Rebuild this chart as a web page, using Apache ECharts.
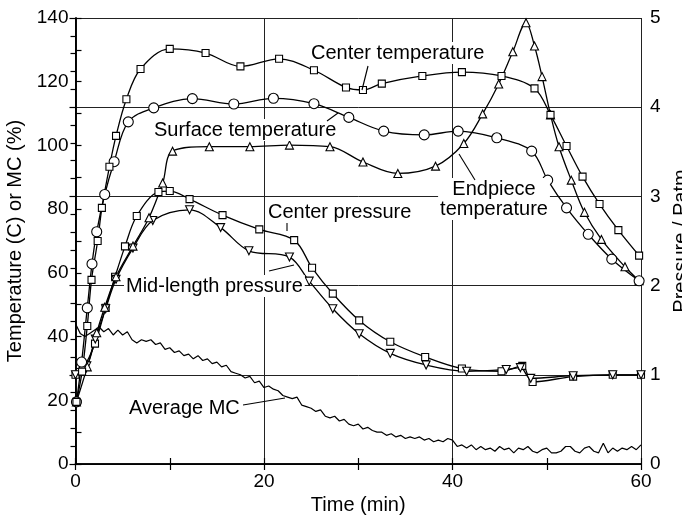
<!DOCTYPE html>
<html>
<head>
<meta charset="utf-8">
<script src="https://cdn.jsdelivr.net/npm/echarts@6/dist/echarts.min.js"></script>
<style>
html,body{margin:0;padding:0;background:#fff;}
#c{width:682px;height:516px;}
</style>
</head>
<body>
<div id="c"></div>
<script>
// ---- data (time in min, temperature in C, MC in %, pressure in Patm) ----
var centerTemp = [[0.1,19.5],[0.7,29],[1.25,43.3],[1.7,57.8],[2.35,70],[2.8,80.4],[3.6,93.3],[4.3,103],[5.4,114.5],[6.9,124],[10,130.3],[13.8,129],[17.5,124.8],[21.6,127.2],[25.3,123.6],[28.7,118.2],[30.5,117.4],[32.5,119.4],[36.8,121.8],[41,123],[45.2,121.8],[48.7,117.9],[50.4,109.6],[52.1,99.8],[53.8,90.2],[55.6,81.6],[57.6,73.4],[59.8,65.4]];
var surfaceTemp = [[0.1,19.5],[0.65,32],[1.25,49],[1.75,62.8],[2.25,72.9],[3.1,84.6],[4.1,94.9],[5.6,107.4],[8.3,111.8],[12.4,114.7],[16.8,113],[21,114.8],[25.3,113.1],[29,108.8],[32.7,104.5],[37,103.3],[40.6,104.5],[44.7,102.4],[48.4,98.2],[50.1,89.1],[52.1,80.4],[54.4,72.1],[56.9,64.3],[59.8,57.5]];
var endpieceTemp = [[0.1,19.5],[1.25,30.5],[2.25,41.2],[3.1,49.2],[4.3,58.8],[6.1,68.4],[7.8,77.3],[9.25,88.2],[10.3,98.2],[14.2,99.6],[18.5,99.6],[22.7,100.1],[27,99.6],[30.5,94.8],[34.2,91.2],[38.2,93.5],[41.2,100.6],[43.2,109.9],[44.9,119.3],[46.4,129.4],[47.8,138.5],[48.7,131.2],[49.5,121.6],[50.4,109.6],[51.3,99.6],[52.6,89.1],[54,79],[55.8,70.5],[58.3,61.9],[59.8,57.5]];
var centerPressure = [[0,1.0],[0.8,1.07],[2.07,1.35],[3.2,1.75],[4.2,2.1],[5.25,2.44],[6.5,2.78],[8.8,3.05],[10,3.06],[12.1,2.97],[15.6,2.79],[19.5,2.63],[23.2,2.51],[25.1,2.2],[27.3,1.91],[30.1,1.61],[33.4,1.37],[37.1,1.2],[41,1.07],[45.2,1.04],[47.4,1.1],[48.5,0.92],[52.8,0.98],[57,1.0],[60,1.0]];
var midPressure = [[0,1.0],[1.2,1.1],[2.1,1.4],[3.2,1.74],[4.3,2.07],[6.1,2.42],[8.2,2.73],[12.1,2.85],[15.4,2.65],[18.4,2.39],[22.7,2.32],[24.8,2.05],[27.3,1.74],[30.1,1.46],[33.4,1.24],[37.2,1.11],[41.5,1.04],[45.7,1.06],[47.2,1.08],[48.3,0.96],[52.8,0.99],[57,1.0],[60,1.0]];
var mcTimes = [];
for (var i = 0; i <= 120; i++) mcTimes.push(i * 0.5);
var mcValues = [44,41,40,41,42,43,41.5,42.5,40.5,42,40.5,41.5,39,38,39,38.5,39,37.5,38,36,36.5,35,35.5,34,34.5,33,34,32.5,33,31.5,32,30.5,31,29,28.5,28,27,27.5,25.5,26,24,24.5,23.5,23,21.5,21,20.5,21,18.5,18,17.5,16.5,17,15,14.5,15,13.5,14,12.5,12,12.5,11,11.5,10.5,10,10,9,9.5,8.5,9,8,8.5,8,8.5,7.5,8,7,7.5,7,8,7.5,5.5,6,5,6,4.5,5.5,4.5,5,4,5.5,4.5,5,3.5,5,4.5,5.5,4,3.5,4.5,5,3.5,3.5,4,5.5,5.5,4,3.5,5,5.5,4,3.5,6.5,3.5,5,4,5,4.5,5.5,4.5,6];
var xTicks = [0,20,40,60];
var leftTicks = [0,20,40,60,80,100,120,140];
var rightTicks = [0,1,2,3,4,5];

var mcData = mcTimes.map(function(t, k){ return [t, mcValues[k]]; });

var FONT = 'Liberation Sans, Arial, Helvetica, sans-serif';
var chart = echarts.init(document.getElementById('c'), null, {renderer:'canvas'});

function markerSeries(name, data, symbol, size, rot, yIdx){
  return {
    name: name, type: 'line', data: data, yAxisIndex: yIdx, xAxisIndex: 0,
    smooth: 0.35, symbol: symbol, symbolSize: size, symbolRotate: rot || 0,
    showAllSymbol: true,
    lineStyle: {color:'#000', width:1.3},
    itemStyle: {color:'#fff', borderColor:'#000', borderWidth:1.1},
    emphasis: {disabled:true}, z: 3
  };
}

function label(text, x, y, align){
  return {
    type:'text', x:x, y:y, z:50,
    style:{text:text, fill:'#000', font:'20px ' + FONT, align: align || 'left', verticalAlign:'middle',
      backgroundColor:'#fff', padding:[1,2,1,2], lineHeight:20}
  };
}
function lead(x1,y1,x2,y2){
  return {type:'line', z:51, shape:{x1:x1,y1:y1,x2:x2,y2:y2}, style:{stroke:'#000', lineWidth:1.1}};
}

var option = {
  backgroundColor:'#fff',
  animation:false,
  grid:{left:75.5, right:41, top:18, bottom:52, containLabel:false, outerBoundsMode:'none'},
  xAxis:[{
    type:'value', min:0, max:60, interval:20, position:'bottom',
    name:'Time (min)', nameLocation:'middle', nameGap:30,
    nameTextStyle:{fontSize:20, color:'#000', fontFamily:FONT},
    axisLine:{show:true, lineStyle:{color:'#000', width:1.6}},
    axisTick:{show:true, inside:true, length:6, lineStyle:{color:'#000', width:1.2}},
    minorTick:{show:true, splitNumber:2, length:6, lineStyle:{color:'#000', width:1.2}},
    axisLabel:{fontSize:19, color:'#000', fontFamily:FONT, margin:8,
      formatter:function(v){ return xTicks.indexOf(v) >= 0 ? String(v) : ''; }},
    splitLine:{show:true, lineStyle:{color:'#222', width:1}}
  },{
    type:'value', min:0, max:60, interval:10, position:'top',
    axisLine:{show:true, lineStyle:{color:'#000', width:1.6}},
    axisTick:{show:true, inside:true, length:6, lineStyle:{color:'#000', width:1.2}},
    axisLabel:{show:false}, splitLine:{show:false}
  }],
  yAxis:[{
    type:'value', min:0, max:140, interval:20, position:'left',
    name:'Temperature (C) or MC (%)', nameLocation:'middle', nameGap:50, nameRotate:90,
    nameTextStyle:{fontSize:20, color:'#000', fontFamily:FONT},
    axisLine:{show:true, lineStyle:{color:'#000', width:1.6}},
    axisTick:{show:true, inside:true, length:6, lineStyle:{color:'#000', width:1.2}},
    minorTick:{show:true, splitNumber:2, length:6, lineStyle:{color:'#000', width:1.2}},
    axisLabel:{fontSize:19, color:'#000', fontFamily:FONT, margin:7,
      formatter:function(v){ return leftTicks.indexOf(v) >= 0 ? String(v) : ''; }},
    splitLine:{show:false}
  },{
    type:'value', min:0, max:5, interval:1, position:'right',
    name:'Pressure / Patm', nameLocation:'middle', nameGap:27, nameRotate:90,
    nameTextStyle:{fontSize:20, color:'#000', fontFamily:FONT},
    axisLine:{show:true, lineStyle:{color:'#000', width:1.6}},
    axisTick:{show:true, inside:true, length:6, lineStyle:{color:'#000', width:1.2}},
    minorTick:{show:true, splitNumber:5, length:5, lineStyle:{color:'#000', width:1.2}},
    axisLabel:{fontSize:19, color:'#000', fontFamily:FONT, margin:9,
      formatter:function(v){ return rightTicks.indexOf(v) >= 0 ? String(v) : ''; }},
    splitLine:{show:true, lineStyle:{color:'#222', width:1}}
  }],
  series:[
    {name:'Average MC', type:'line', data:mcData, yAxisIndex:0, xAxisIndex:0, symbol:'none',
      lineStyle:{color:'#000', width:1.2}, emphasis:{disabled:true}, z:2},
    markerSeries('Center pressure', centerPressure, 'rect', 7, 0, 1),
    markerSeries('Mid-length pressure', midPressure, 'triangle', 8, 180, 1),
    markerSeries('Endpiece temperature', endpieceTemp, 'triangle', 8, 0, 0),
    markerSeries('Surface temperature', surfaceTemp, 'circle', 10, 0, 0),
    markerSeries('Center temperature', centerTemp, 'rect', 7, 0, 0)
  ],
  graphic:[
    label('Center temperature', 309, 53),
    lead(368,66,362,90),
    label('Surface temperature', 152, 130),
    lead(327,121,338,113),
    label('Endpiece\ntemperature', 494, 199, 'center'),
    lead(475,180,459,154),
    label('Center pressure', 266, 212),
    lead(287,223,287,231),
    label('Mid-length pressure', 124, 286),
    lead(269,271,294,265),
    label('Average MC', 127, 408),
    lead(243,405,285,398)
  ]
};
chart.setOption(option);
</script>
</body>
</html>
